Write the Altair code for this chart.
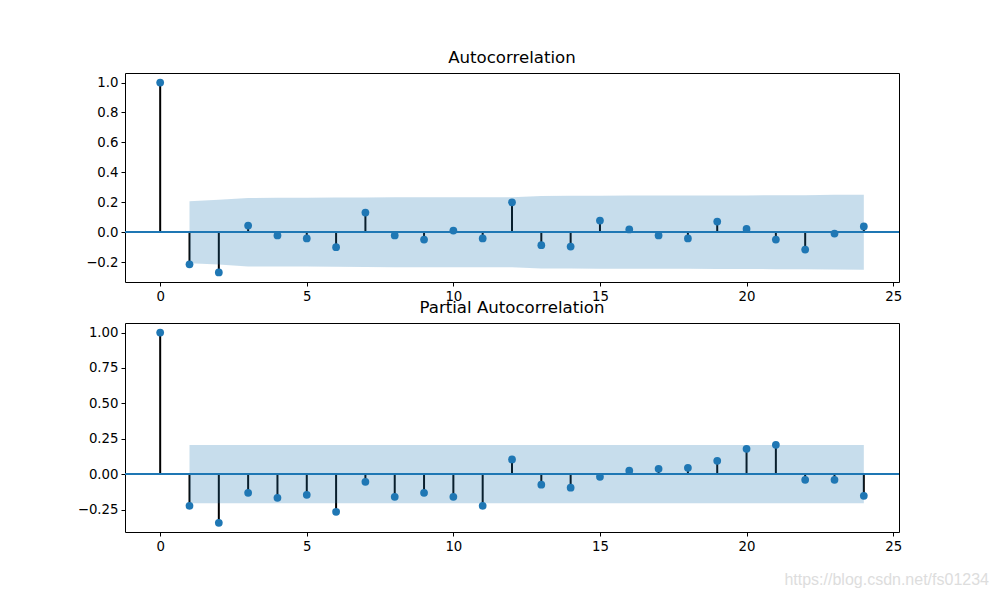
import altair as alt
import pandas as pd

lags = list(range(25))
acf_vals = [1.0, -0.215, -0.269, 0.044, -0.022, -0.042, -0.100, 0.131, -0.022, -0.049,
            0.011, -0.042, 0.200, -0.087, -0.096, 0.078, 0.018, -0.022, -0.042, 0.071,
            0.022, -0.049, -0.116, -0.009, 0.038]
pacf_vals = [1.0, -0.224, -0.344, -0.132, -0.167, -0.146, -0.266, -0.054, -0.160, -0.132,
             -0.160, -0.224, 0.104, -0.075, -0.096, -0.019, 0.024, 0.038, 0.045, 0.094,
             0.179, 0.207, -0.040, -0.040, -0.153]
band_lags = list(range(1, 25))
acf_conf = [0.207, 0.216, 0.229, 0.230, 0.230, 0.231, 0.232, 0.234, 0.234, 0.234,
            0.234, 0.234, 0.242, 0.243, 0.244, 0.245, 0.245, 0.245, 0.246, 0.246,
            0.247, 0.247, 0.250, 0.251]
pacf_conf = [0.205] * 24
acf_ticks = [-0.2, 0.0, 0.2, 0.4, 0.6, 0.8, 1.0]
pacf_ticks = [-0.25, 0.0, 0.25, 0.5, 0.75, 1.0]
x_ticks = [0, 5, 10, 15, 20, 25]

BLUE = "#1f77b4"
FONT = "DejaVu Sans"


def panel(vals, conf, title, ydom, yticks, yfmt, watermark=False):
    df = pd.DataFrame({"lag": lags, "value": vals, "zero": [0.0] * len(lags)})
    bdf = pd.DataFrame({"lag": band_lags, "hi": conf, "lo": [-c for c in conf]})
    xs = alt.Scale(domain=[-1.2, 25.2], nice=False, zero=False)
    ys = alt.Scale(domain=ydom, nice=False, zero=False)
    xax = alt.Axis(values=x_ticks, title=None, format="d", labelOverlap=False)
    yax = alt.Axis(values=yticks, title=None, format=yfmt, labelOverlap=False,
                   tickCount=len(yticks))
    stems = alt.Chart(df).mark_rule(color="black", strokeWidth=2).encode(
        x=alt.X("lag:Q", scale=xs, axis=xax),
        y=alt.Y("zero:Q", scale=ys, axis=yax),
        y2="value:Q",
    )
    band = alt.Chart(bdf).mark_area(color=BLUE, opacity=0.25).encode(
        x=alt.X("lag:Q", scale=xs, axis=xax),
        y=alt.Y("lo:Q", scale=ys, axis=yax),
        y2="hi:Q",
    )
    zline = alt.Chart(df).mark_rule(color=BLUE, strokeWidth=1.8).encode(
        y=alt.Y("zero:Q", scale=ys, axis=yax)
    )
    pts = alt.Chart(df).mark_circle(color=BLUE, size=60, opacity=1).encode(
        x=alt.X("lag:Q", scale=xs, axis=xax),
        y=alt.Y("value:Q", scale=ys, axis=yax),
    )
    layers = [stems, band, zline, pts]
    if watermark:
        wm = alt.Chart(pd.DataFrame({"t": ["https://blog.csdn.net/fs01234"]})).mark_text(
            align="right", baseline="alphabetic", font="Liberation Sans", fontSize=16,
            color="#dddddd"
        ).encode(text="t:N", x=alt.value(864), y=alt.value(262))
        layers.append(wm)
    return alt.layer(*layers).properties(
        width=774, height=209,
        title=alt.TitleParams(title, fontSize=16.6, font=FONT, fontWeight="normal",
                              color="black", offset=6, anchor="middle"),
    )


top = panel(acf_vals, acf_conf, "Autocorrelation", [-0.333, 1.064],
            acf_ticks, ".1f")
bottom = panel(pacf_vals, pacf_conf, "Partial Autocorrelation", [-0.409, 1.068],
               pacf_ticks, ".2f", watermark=True)

chart = alt.vconcat(top, bottom, spacing=41, bounds="flush").properties(
    padding={"left": 0, "top": 41, "right": 0, "bottom": 0}
).configure_view(stroke="black", strokeWidth=1).configure_axis(
    domain=False, grid=False, tickColor="black", tickSize=4, tickWidth=1,
    labelColor="black", labelFont=FONT, labelFontSize=13.3, labelPadding=3,
    labelOverlap=False, labelFlush=False,
).configure_axisY(minExtent=116, maxExtent=116)

chart.save("out.html", embed_options={"renderer": "svg", "actions": False})
